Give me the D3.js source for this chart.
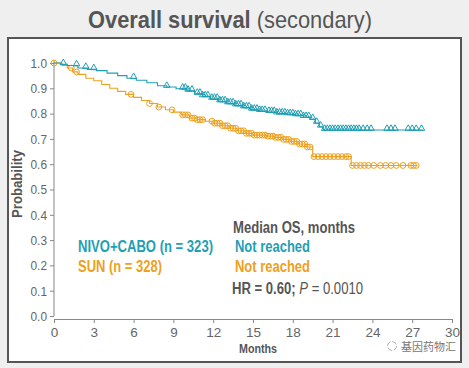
<!DOCTYPE html>
<html>
<head>
<meta charset="utf-8">
<script src="https://cdn.jsdelivr.net/npm/d3@7"></script>
<style>
  html, body { margin: 0; padding: 0; background: #efefef; }
  svg { display: block; }
  text { font-family: "Liberation Sans", Arial, sans-serif; }
</style>
</head>
<body>
<script>
// step points of the two KM curves (months, survival)
var nivoTimes = [0, 0.5, 1.0, 1.8, 2.5, 3.2, 4.0, 4.8, 5.5, 6.2, 7.0, 7.8, 8.5, 9.2, 10.0, 10.6, 11.2, 11.8, 12.4, 13.0, 13.6, 14.2, 14.8, 15.4, 16.0, 16.8, 17.5, 18.2, 18.8, 19.3, 19.7, 20.0, 20.3, 27.8];
var nivoSurv = [1.0, 0.995, 0.99, 0.98, 0.975, 0.97, 0.96, 0.95, 0.94, 0.932, 0.922, 0.91, 0.905, 0.898, 0.89, 0.878, 0.868, 0.858, 0.848, 0.84, 0.832, 0.824, 0.815, 0.81, 0.806, 0.8, 0.797, 0.793, 0.786, 0.778, 0.763, 0.748, 0.735, 0.735];
var sunTimes = [0, 0.6, 1.0, 1.4, 1.8, 2.4, 3.0, 3.6, 4.2, 4.8, 5.4, 6.0, 6.6, 7.2, 7.8, 8.4, 9.0, 9.6, 10.2, 10.8, 11.4, 12.0, 12.6, 13.2, 13.8, 14.4, 15.0, 16.0, 16.6, 17.2, 17.8, 18.4, 19.0, 19.5, 22.4, 27.4];
var sunSurv = [1.0, 0.99, 0.98, 0.965, 0.955, 0.94, 0.93, 0.915, 0.9, 0.888, 0.876, 0.864, 0.852, 0.84, 0.826, 0.815, 0.806, 0.795, 0.782, 0.776, 0.77, 0.762, 0.752, 0.742, 0.732, 0.722, 0.715, 0.711, 0.706, 0.698, 0.69, 0.68, 0.668, 0.63, 0.595, 0.595];

// censoring times
var nivoCensor = [0.7, 1.7, 2.4, 3.0, 6.0, 8.5, 9.7, 9.9, 10.1, 10.4, 10.8, 11.0, 11.2, 11.4, 11.6, 11.9, 12.1, 12.3, 12.5, 12.7, 12.9, 13.1, 13.3, 13.5, 13.7, 13.9, 14.1, 14.3, 14.5, 14.7, 14.9, 15.1, 15.3, 15.5, 15.7, 15.9, 16.2, 16.4, 16.6, 16.8, 17.0, 17.2, 17.4, 17.6, 17.8, 18.0, 18.2, 18.4, 18.6, 18.8, 19.0, 19.2, 19.5, 19.8, 20.1, 20.4, 20.6, 20.8, 21.0, 21.2, 21.4, 21.6, 21.8, 22.0, 22.2, 22.4, 22.6, 22.8, 23.0, 23.3, 23.6, 23.9, 25.1, 25.4, 25.7, 26.7, 27.0, 27.3, 27.7];
var sunCensor = [0, 1.3, 1.7, 5.8, 7.2, 7.9, 8.9, 9.7, 9.9, 10.1, 10.4, 10.6, 10.8, 11.0, 11.2, 11.9, 12.1, 12.3, 12.5, 12.7, 12.9, 13.1, 13.3, 13.5, 13.7, 13.9, 14.1, 14.3, 14.5, 14.7, 14.9, 15.1, 15.3, 15.5, 15.7, 15.9, 16.1, 16.3, 16.5, 16.7, 16.9, 17.1, 17.3, 17.5, 17.7, 17.9, 18.1, 18.3, 18.5, 18.7, 18.9, 19.1, 19.3, 19.6, 19.9, 20.2, 20.5, 20.8, 21.1, 21.4, 21.7, 22.0, 22.2, 22.5, 22.8, 23.1, 23.4, 23.7, 24.1, 24.6, 25.0, 25.4, 25.8, 26.3, 26.9, 27.1, 27.3];

var xTicks = [0, 3, 6, 9, 12, 15, 18, 21, 24, 27, 30];
var yTicks = [0, 0.1, 0.2, 0.3, 0.4, 0.5, 0.6, 0.7, 0.8, 0.9, 1.0];

var teal = "#1f9fb4", orange = "#eda11e", gray = "#555";

var width = 469, height = 368;
var svg = d3.select("body").append("svg").attr("width", width).attr("height", height);

// squeeze text to the condensed face used in the slide
function fit(sel, w) {
  return sel.attr("textLength", w).attr("lengthAdjust", "spacingAndGlyphs");
}

// panel
svg.append("rect").attr("x", 8).attr("y", 38).attr("width", 453).attr("height", 324)
  .attr("fill", "#fff").attr("stroke", "#555").attr("stroke-width", 2);

// title
var title = svg.append("text").attr("x", 88).attr("y", 28)
  .attr("fill", gray).style("font-size", "24px");
title.append("tspan").attr("font-weight", "bold").text("Overall survival");
title.append("tspan").text(" (secondary)");
fit(title, 284);

var x = d3.scaleLinear().domain([0, 30]).range([54, 452]);
var y = d3.scaleLinear().domain([0, 1]).range([316, 63]);

// axes
var xAxis = svg.append("g").attr("transform", "translate(0,319)")
  .call(d3.axisBottom(x).tickValues(xTicks).tickSize(4).tickPadding(4).tickFormat(d3.format("d")));
var yAxis = svg.append("g").attr("transform", "translate(54,0)")
  .call(d3.axisLeft(y).tickValues(yTicks).tickSize(4).tickPadding(3).tickFormat(d3.format(".1f")));
[xAxis, yAxis].forEach(function (g) {
  g.select(".domain").attr("stroke", "#888");
  g.selectAll(".tick line").attr("stroke", "#888");
  g.selectAll(".tick text").attr("fill", "#666").style("font-size", "13.5px")
    .style("font-family", '"Liberation Sans", Arial, sans-serif');
});
yAxis.selectAll(".tick text").each(function () { fit(d3.select(this), 16.5); });
yAxis.select(".domain").attr("d", "M0," + y(1.01) + "V" + y(0));

fit(svg.append("text").attr("x", 239).attr("y", 353)
  .attr("fill", gray).attr("font-weight", "bold").style("font-size", "13px").text("Months"), 38);
fit(svg.append("text").attr("transform", "translate(22,218) rotate(-90)")
  .attr("fill", gray).attr("font-weight", "bold").style("font-size", "15px").text("Probability"), 68);

function stepAt(times, surv, t) {
  var i = d3.bisectRight(times, t) - 1;
  return surv[Math.max(0, i)];
}

var line = d3.line().curve(d3.curveStepAfter).x(function (d) { return x(d[0]); }).y(function (d) { return y(d[1]); });

function drawArm(times, surv, censor, color, shape) {
  svg.append("path").datum(d3.zip(times, surv)).attr("d", line)
    .attr("fill", "none").attr("stroke", color).attr("stroke-width", 1.1);
  var g = svg.append("g");
  censor.forEach(function (t) {
    var cx = x(t), cy = y(stepAt(times, surv, t));
    if (shape === "tri") {
      g.append("path").attr("d", d3.symbol(d3.symbolTriangle, 18)())
        .attr("transform", "translate(" + cx + "," + (cy - 1.5) + ")")
        .attr("fill", "none").attr("stroke", color).attr("stroke-width", 1);
    } else {
      g.append("circle").attr("cx", cx).attr("cy", cy).attr("r", 2.9)
        .attr("fill", "none").attr("stroke", color).attr("stroke-width", 1);
    }
  });
}
drawArm(sunTimes, sunSurv, sunCensor, orange, "circle");
drawArm(nivoTimes, nivoSurv, nivoCensor, teal, "tri");

// legend / annotation
function label(tx, ty, str, color, w) {
  return fit(svg.append("text").attr("x", tx).attr("y", ty).attr("fill", color)
    .attr("font-weight", "bold").style("font-size", "16px").text(str), w);
}
label(78, 252, "NIVO+CABO (n = 323)", teal, 135);
label(78, 272, "SUN (n = 328)", orange, 84);
label(233, 233, "Median OS, months", gray, 122);
label(235, 252, "Not reached", teal, 75);
label(235, 272, "Not reached", orange, 75);
var hr = svg.append("text").attr("x", 232).attr("y", 294).attr("fill", gray).style("font-size", "16px");
hr.append("tspan").attr("font-weight", "bold").text("HR = 0.60; ");
hr.append("tspan").attr("font-style", "italic").text("P");
hr.append("tspan").text(" = 0.0010");
fit(hr, 131);

// watermark
svg.append("circle").attr("cx", 392).attr("cy", 346).attr("r", 4.5).attr("fill", "none")
  .attr("stroke", "#999").attr("stroke-width", 0.8).attr("stroke-dasharray", "5,2");
svg.append("text").attr("x", 401).attr("y", 351).attr("fill", "#777")
  .style("font-family", '"Noto Sans CJK SC", sans-serif').style("font-size", "11px").text("基因药物汇");
</script>
</body>
</html>
